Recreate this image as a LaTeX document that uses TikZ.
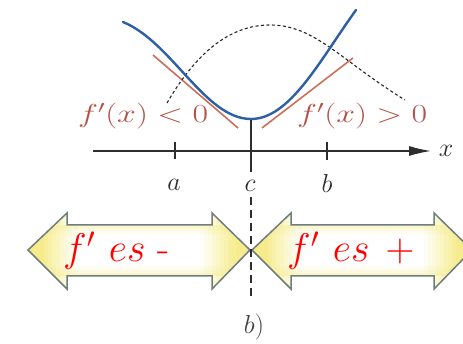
\RequirePackage{fix-cm}
\documentclass[tikz,border=0pt]{standalone}
\usetikzlibrary{arrows.meta}
\definecolor{bluecurve}{RGB}{45,95,165}
\definecolor{tancol}{RGB}{205,110,90}
\definecolor{labcol}{RGB}{178,82,72}
\definecolor{axcol}{RGB}{45,45,45}
\definecolor{arrowedge}{RGB}{112,125,125}
\definecolor{arrowyel}{RGB}{246,236,140}
\newcommand{\dblarrow}[2]{%
  \begin{scope}
    \clip (#1,250) -- ({#1+39},213) -- ({#1+39},225) -- ({#2-38},225) -- ({#2-38},213) -- (#2,250)
      -- ({#2-38},289) -- ({#2-38},276) -- ({#1+39},276) -- ({#1+39},289) -- cycle;
    \pgfmathsetmacro{\dacen}{(#1+#2)/2}
    \pgfmathsetmacro{\dahalf}{(#2-#1)/2}
    \foreach \k in {0,...,55} {
      \pgfmathsetmacro{\daxa}{#1+\k*4}
      \pgfmathsetmacro{\dad}{abs(\daxa+2-\dacen)/\dahalf}
      \pgfmathsetmacro{\dap}{min(100,max(0,(\dad-0.55)/0.33*100))}
      \fill[arrowyel!\dap!white] (\daxa,205) rectangle ({\daxa+4.6},295);
    }
    \foreach \j in {0,...,5} {
      \fill[arrowyel,opacity={0.45*(1-\j/6)}] (#1,{225+1.6*\j}) rectangle (#2,{226.6+1.6*\j});
      \fill[arrowyel,opacity={0.45*(1-\j/6)}] (#1,{276-1.6*\j}) rectangle (#2,{274.4-1.6*\j});
    }
  \end{scope}
  \draw[bigarrow] (#1,250) -- ({#1+39},213) -- ({#1+39},225) -- ({#2-38},225) -- ({#2-38},213) -- (#2,250)
      -- ({#2-38},289) -- ({#2-38},276) -- ({#1+39},276) -- ({#1+39},289) -- cycle;
}
\begin{document}
\begin{tikzpicture}[x=1pt,y=-1pt,
  axisline/.style={draw=axcol,line width=1.4pt},
  tickline/.style={draw=axcol,line width=1.4pt},
  cutline/.style={draw=axcol,line width=1.3pt,dash pattern=on 8pt off 5pt},
  ticklab/.style={font=\fontsize{26}{26}\selectfont,text=axcol,inner sep=0pt},
  fcurve/.style={draw=bluecurve,line width=2.4pt,line cap=round},
  dcurve/.style={draw=black!85,line width=1.1pt,dash pattern=on 3pt off 2.5pt},
  tanline/.style={draw=tancol,line width=1.6pt},
  bigarrow/.style={draw=arrowedge,line width=1.5pt,line join=miter},
  toplab/.style={text=labcol,inner sep=0pt,font=\fontsize{26}{26}\selectfont},
  arrtext/.style={text=red,inner sep=0pt,font=\fontsize{40}{40}\selectfont}]
\useasboundingbox (0,0) rectangle (463,344);
\fill[white] (0,0) rectangle (463,344);
\clip (0,0) rectangle (463,344);

% big double arrows
\dblarrow{28}{250}
\dblarrow{252}{472}

% tangent lines
\coordinate (tl1) at (153,55); \coordinate (tl2) at (238,128);
\coordinate (tr1) at (262,128); \coordinate (tr2) at (353,58);
\draw[tanline] (tl1) -- (tl2);
\draw[tanline] (tr1) -- (tr2);

% derivative (dashed)
\coordinate (d0) at (167,103); \coordinate (dm) at (270,25); \coordinate (de) at (405,100);
\draw[dcurve] (d0) .. controls (195,55) and (228,25) .. (dm) .. controls (315,25) and (340,60) .. (de);

% function curve
\coordinate (f0) at (123,22); \coordinate (fm) at (251,119); \coordinate (fe) at (356,10);
\draw[fcurve] (f0) .. controls (172,42) and (205,119) .. (fm) .. controls (290,119) and (320,60) .. (fe);

% labels on curves
\node[toplab,anchor=base west] (lneg) at (78,123) {\scalebox{1.3}[1]{$f'(x) < 0$}};
\node[toplab,anchor=base west] (lpos) at (297,123) {\scalebox{1.3}[1]{$f'(x) > 0$}};

% axis
\coordinate (axL) at (93,151);
\coordinate (axR) at (431,151);
\draw[axisline,-{Latex[length=22pt,width=10pt]}] (axL) -- (axR);
\node[ticklab] (xlab) at (446,151) {$x$};

\coordinate (ta1) at (175,142); \coordinate (ta2) at (175,159);
\coordinate (tb1) at (327,142); \coordinate (tb2) at (327,160);
\coordinate (tc1) at (251,120); \coordinate (tc2) at (251,172);
\draw[tickline] (ta1) -- (ta2);
\draw[tickline] (tb1) -- (tb2);
\draw[tickline] (tc1) -- (tc2);
\node[ticklab] (alab) at (174,185) {$a$};
\node[ticklab] (clab) at (250,186) {$c$};
\node[ticklab] (blab) at (327,183) {$b$};

% dashed divider
\coordinate (d1) at (251,197); \coordinate (d2) at (251,298);
\draw[cutline] (d1) -- (d2);

% arrow texts
\node[arrtext,anchor=base west] (tneg) at (63,262) {$f'\hspace{0.35em}es$\hspace{0.3em}-};
\node[arrtext,anchor=base west] (tpos) at (287,262) {$f'\hspace{0.35em}es\hspace{0.4em}{+}$};

% caption
\node[ticklab,text=black!75] (cap) at (254,327) {$b)$};
\end{tikzpicture}
\end{document}
